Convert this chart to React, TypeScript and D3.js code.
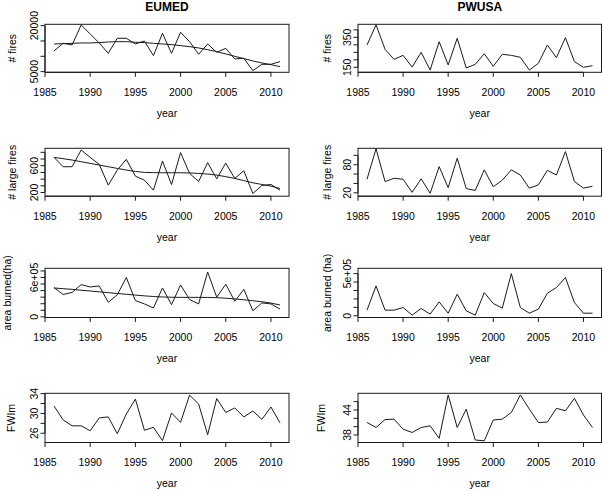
import React from 'react';
import * as d3 from 'd3';

const years = [1986, 1987, 1988, 1989, 1990, 1991, 1992, 1993, 1994, 1995, 1996, 1997, 1998,
  1999, 2000, 2001, 2002, 2003, 2004, 2005, 2006, 2007, 2008, 2009, 2010, 2011];
const xTicks = [1985, 1990, 1995, 2000, 2005, 2010];

const eumedFires = [11740, 14240, 13700, 20220, 17280, 14350, 10980, 15870, 15870, 14020, 15000, 10220, 17500,
  10980, 17830, 14800, 10650, 14020, 11300, 12610, 9130, 9350, 5330, 7390, 7390, 8260];
const eumedFiresTrend = [14020, 14130, 14240, 14350, 14350, 14460, 14670, 14780, 14780, 14570, 14460, 14240, 14020,
  13800, 13480, 13150, 12720, 12170, 11520, 10760, 10000, 9240, 8480, 7830, 7280, 6630];
const pwusaFires = [299, 433, 270, 203, 230, 152, 250, 132, 321, 166, 344, 146, 170,
  241, 157, 237, 230, 217, 132, 177, 299, 215, 348, 188, 150, 161];

const eumedLarge = [725, 585, 585, 835, 725, 620, 310, 535, 695, 445, 385, 235, 670,
  320, 795, 485, 365, 645, 405, 640, 410, 525, 185, 305, 320, 235];
const eumedLargeTrend = [725, 705, 685, 660, 635, 610, 585, 560, 535, 515, 500, 497, 495,
  495, 495, 492, 485, 475, 460, 437, 410, 378, 345, 320, 295, 260];
const pwusaLarge = [49, 114, 44, 51, 49, 21, 50, 19, 76, 31, 94, 29, 25,
  69, 33, 47, 69, 58, 30, 37, 68, 58, 108, 44, 30, 34];

const eumedArea = [445000, 341000, 372000, 491000, 455000, 471000, 222000, 336000, 600000, 248000, 197000, 135000, 440000,
  186000, 486000, 264000, 197000, 683000, 300000, 497000, 238000, 419000, 93000, 212000, 197000, 119000];
const eumedAreaTrend = [440000, 429000, 419000, 406000, 394000, 381000, 369000, 356000, 344000, 332000, 320000, 310000, 303000,
  299000, 297000, 297000, 297000, 296000, 292000, 284000, 273000, 260000, 246000, 231000, 210000, 181000];
const pwusaArea = [67000, 354000, 67000, 67000, 98000, 8000, 87000, 20000, 165000, 31000, 256000, 59000, 8000,
  276000, 146000, 91000, 500000, 98000, 31000, 79000, 268000, 335000, 453000, 157000, 31000, 31000];

const eumedFwi = [31.5, 28.7, 27.5, 27.5, 26.5, 29.1, 29.3, 25.9, 29.9, 32.9, 26.6, 27.2, 24.5,
  30.1, 28.2, 33.7, 31.9, 25.7, 33.0, 30.2, 31.1, 29.3, 30.5, 28.8, 31.3, 28.1];
const pwusaFwi = [41.0, 39.8, 41.7, 41.8, 39.4, 38.6, 39.8, 40.2, 37.2, 47.6, 39.8, 44.2, 36.8,
  36.6, 41.6, 41.8, 43.4, 47.6, 44.2, 41.0, 41.1, 44.4, 43.8, 46.8, 42.8, 39.8];

const titles = ['EUMED', 'PWUSA'];

const W = 602;
const H = 491;
const colX = [[45, 289], [358, 601.5]];
const rowY = [[24.3, 72.3], [148.3, 196.2], [268.3, 317.5], [393.3, 442.5]];
const FONT = "'Liberation Sans', Arial, Helvetica, sans-serif";

type Cfg = {
  col: number; row: number; data: number[]; trend?: number[];
  domain: [number, number]; ticks: number[]; labelVals: number[]; labelTexts: string[];
  ylab: string; ylabX: number;
};

const panels: Cfg[] = [
  { col: 0, row: 0, data: eumedFires, trend: eumedFiresTrend, domain: [4783, 20435],
    ticks: [5000, 10000, 15000, 20000], labelVals: [5000, 20000], labelTexts: ['5000', '20000'], ylab: '# fires', ylabX: 12 },
  { col: 1, row: 0, data: pwusaFires, domain: [117, 437],
    ticks: [150, 200, 250, 300, 350, 400], labelVals: [150, 350], labelTexts: ['150', '350'], ylab: '# fires', ylabX: 326.5 },
  { col: 0, row: 1, data: eumedLarge, trend: eumedLargeTrend, domain: [145, 860],
    ticks: [200, 300, 400, 500, 600, 700, 800], labelVals: [200, 600], labelTexts: ['200', '600'], ylab: '# large fires', ylabX: 12 },
  { col: 1, row: 1, data: pwusaLarge, domain: [12.8, 115],
    ticks: [20, 40, 60, 80, 100], labelVals: [20, 80], labelTexts: ['20', '80'], ylab: '# large fires', ylabX: 326.5 },
  { col: 0, row: 2, data: eumedArea, trend: eumedAreaTrend, domain: [-10000, 740000],
    ticks: [0, 100000, 200000, 300000, 400000, 500000, 600000, 700000], labelVals: [0, 600000], labelTexts: ['0', '6e+05'], ylab: 'area burned(ha)', ylabX: 7 },
  { col: 1, row: 2, data: pwusaArea, domain: [-20000, 563000],
    ticks: [0, 100000, 200000, 300000, 400000, 500000], labelVals: [0, 500000], labelTexts: ['0', '5e+05'], ylab: 'area burned (ha)', ylabX: 326.5 },
  { col: 0, row: 3, data: eumedFwi, domain: [24.13, 34.07],
    ticks: [26, 28, 30, 32, 34], labelVals: [26, 30, 34], labelTexts: ['26', '30', '34'], ylab: 'FWIm', ylabX: 10.5 },
  { col: 1, row: 3, data: pwusaFwi, domain: [36.2, 48.0],
    ticks: [38, 40, 42, 44, 46], labelVals: [38, 44], labelTexts: ['38', '44'], ylab: 'FWIm', ylabX: 321 },
];

const STROKE = '#1a1a1a';

function Panel({ cfg }: { cfg: Cfg }) {
  const [x0, x1] = colX[cfg.col];
  const [y0, y1] = rowY[cfg.row];
  const x = d3.scaleLinear().domain([1985, 2012]).range([x0, x1]);
  const y = d3.scaleLinear().domain(cfg.domain).range([y1, y0]);
  const line = d3.line<number>().x((_, i) => x(years[i])).y((d) => y(d));
  const tl = 4.5;
  const yc = (y0 + y1) / 2;
  return (
    <g>
      <path d={line(cfg.data) || ''} fill="none" stroke={STROKE} strokeWidth={1} strokeLinejoin="round" />
      {cfg.trend && (
        <path d={line(cfg.trend) || ''} fill="none" stroke={STROKE} strokeWidth={1} />
      )}
      <rect x={x0} y={y0} width={x1 - x0} height={y1 - y0} fill="none" stroke={STROKE} strokeWidth={1} />
      {/* x axis */}
      <line x1={x(xTicks[0])} x2={x(xTicks[xTicks.length - 1])} y1={y1} y2={y1} stroke={STROKE} strokeWidth={1} />
      {xTicks.map((t) => (
        <g key={t}>
          <line x1={x(t)} x2={x(t)} y1={y1} y2={y1 + tl} stroke={STROKE} strokeWidth={1} />
          <text x={x(t)} y={y1 + 19.3} textAnchor="middle" dominantBaseline="central" fontSize={10.5} fontFamily={FONT}>{t}</text>
        </g>
      ))}
      <text x={(x0 + x1) / 2} y={y1 + 44.7} textAnchor="middle" fontSize={10.5} fontFamily={FONT}>year</text>
      {/* y axis */}
      <line x1={x0} x2={x0} y1={y(cfg.ticks[0])} y2={y(cfg.ticks[cfg.ticks.length - 1])} stroke={STROKE} strokeWidth={1} />
      {cfg.ticks.map((t) => (
        <line key={t} x1={x0 - tl} x2={x0} y1={y(t)} y2={y(t)} stroke={STROKE} strokeWidth={1} />
      ))}
      {cfg.labelVals.map((v, i) => (
        <text key={v} transform={`translate(${x0 - 11},${y(v)}) rotate(-90)`} textAnchor="middle" dominantBaseline="central"
          fontSize={10.5} fontFamily={FONT}>{cfg.labelTexts[i]}</text>
      ))}
      <text transform={`translate(${cfg.ylabX},${yc}) rotate(-90)`} textAnchor="middle" dominantBaseline="central"
        fontSize={10.5} fontFamily={FONT}>{cfg.ylab}</text>
      {cfg.row === 0 && (
        <text x={(x0 + x1) / 2} y={11} textAnchor="middle" fontSize={12} fontWeight="bold" fontFamily={FONT}>{titles[cfg.col]}</text>
      )}
    </g>
  );
}

export default function App() {
  return (
    <svg width={W} height={H} style={{ position: 'absolute', left: 0, top: 0, background: '#fff' }}>
      <rect x={0} y={0} width={W} height={H} fill="#fff" />
      {panels.map((p, i) => <Panel key={i} cfg={p} />)}
    </svg>
  );
}
